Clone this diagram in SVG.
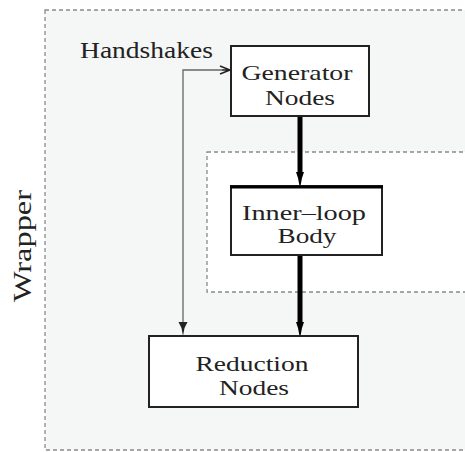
<svg xmlns="http://www.w3.org/2000/svg" width="465" height="452" viewBox="0 0 465 452">
<style>
.t{font-family:"Liberation Serif","Times New Roman",serif;fill:#222;}
.box{fill:#fff;stroke:#222;stroke-width:2;}
.dash{stroke:#8a8a8a;stroke-width:1.3;stroke-dasharray:4 3;}
</style>
<defs>
<marker id="thick" markerWidth="9" markerHeight="14" refX="4.5" refY="13" orient="auto-start-reverse" markerUnits="userSpaceOnUse" viewBox="0 0 9 14">
<path d="M0,0 L9,0 L6,6 L4.5,14 L3,6 Z" fill="#000" transform="rotate(-90 4.5 7)"/>
</marker>
<marker id="thin" markerWidth="10" markerHeight="10" refX="9" refY="5" orient="auto" markerUnits="userSpaceOnUse">
<path d="M0,0.5 L10,5 L0,9.5 L3,5 Z" fill="#222"/>
</marker>
<marker id="open" markerWidth="10" markerHeight="8" refX="9" refY="4" orient="auto" markerUnits="userSpaceOnUse">
<path d="M1,1 L9,4 L1,7 M2,4 L9,4" fill="none" stroke="#222" stroke-width="1.5"/>
</marker>
</defs>
<rect x="0" y="0" width="465" height="452" fill="#fff"/>
<g id="wrapper">
<rect x="45" y="10" width="430" height="440" fill="#f5f6f6" class="dash"/>
<text class="t" font-size="26" transform="translate(31,302) rotate(-90)" textLength="112" lengthAdjust="spacingAndGlyphs">Wrapper</text>
</g>
<g id="innerloop-region">
<rect x="207" y="152" width="270" height="140" fill="#fff" class="dash"/>
</g>
<g id="connectors">
<line x1="300" y1="117" x2="300" y2="174" stroke="#000" stroke-width="5"/>
<path d="M296,172 L304,172 L302,178 L300.5,186 L299.5,186 L298,178 Z" fill="#000"/>
<line x1="300" y1="256" x2="300" y2="324" stroke="#000" stroke-width="5"/>
<path d="M296,322 L304,322 L302,328 L300.5,336 L299.5,336 L298,328 Z" fill="#000"/>
<polyline points="183,326 183,70 222,70" fill="none" stroke="#666" stroke-width="1.3"/>
<path d="M220,66 L230,70 L220,74 M222,70 L230,70" fill="none" stroke="#222" stroke-width="1.5"/>
<path d="M178.5,322 L187.5,322 L184.5,328 L183,336 L181.5,328 Z" fill="#222"/>
<text class="t" x="80" y="58" font-size="24" textLength="133" lengthAdjust="spacingAndGlyphs">Handshakes</text>
</g>
<g id="generator">
<rect x="231" y="46" width="138" height="70" class="box"/>
<text class="t" x="297" y="80" font-size="22" text-anchor="middle" textLength="111" lengthAdjust="spacingAndGlyphs">Generator</text>
<text class="t" x="300" y="105" font-size="22" text-anchor="middle" textLength="70" lengthAdjust="spacingAndGlyphs">Nodes</text>
</g>
<g id="innerloop">
<rect x="231" y="186" width="151" height="69" class="box"/>
<line x1="230" y1="187" x2="383" y2="187" stroke="#000" stroke-width="3"/>
<text class="t" x="304" y="220" font-size="22" text-anchor="middle" textLength="124" lengthAdjust="spacingAndGlyphs">Inner–loop</text>
<text class="t" x="307" y="243" font-size="22" text-anchor="middle" textLength="59" lengthAdjust="spacingAndGlyphs">Body</text>
</g>
<g id="reduction">
<rect x="149" y="336" width="209" height="71" class="box"/>
<text class="t" x="252" y="371" font-size="22" text-anchor="middle" textLength="113" lengthAdjust="spacingAndGlyphs">Reduction</text>
<text class="t" x="254" y="395" font-size="22" text-anchor="middle" textLength="70" lengthAdjust="spacingAndGlyphs">Nodes</text>
</g>
</svg>
